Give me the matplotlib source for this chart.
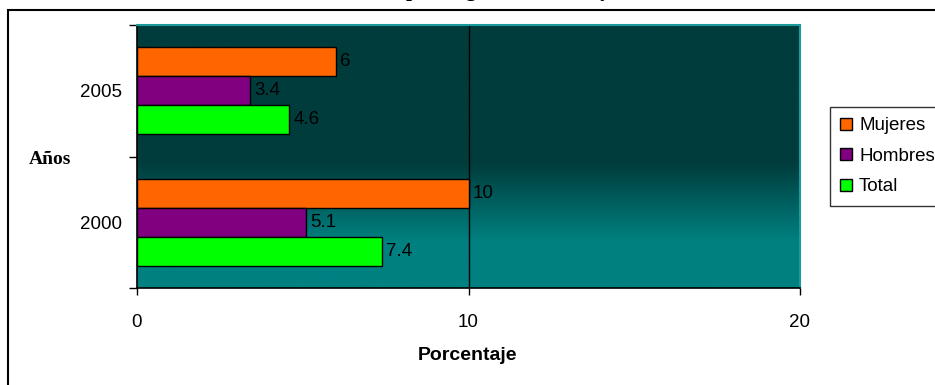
import numpy as np
import matplotlib.pyplot as plt
from matplotlib.patches import Patch, Rectangle

# Datos
anios = ["2000", "2005"]
mujeres = [10, 6]
hombres = [5.1, 3.4]
total = [7.4, 4.6]

series = [
    ("Mujeres", mujeres, "#FF6600", 0.22),
    ("Hombres", hombres, "#800080", 0.0),
    ("Total", total, "#00FF00", -0.22),
]

FS = 13.5
SANS = "Liberation Sans"

W, H = 935, 385
fig = plt.figure(figsize=(W / 100, H / 100), dpi=100)
ax = fig.add_axes([137 / W, (H - 288) / H, 663 / W, 263 / H])

# fondo degradado: verde oscuro arriba, turquesa abajo
frac = np.linspace(0, 1, 512)
t = np.clip((frac - 0.18) / (0.475 - 0.18), 0, 1)
dark = np.array([0, 60, 60]) / 255
light = np.array([0, 128, 128]) / 255
grad = light[None, :] * (1 - t[:, None]) + dark[None, :] * t[:, None]
ax.imshow(grad[:, None, :], aspect="auto", extent=[0, 20, -0.5, 1.5],
          origin="lower", zorder=0, interpolation="bilinear")

pos = np.arange(len(anios))
for nombre, vals, color, off in series:
    bars = ax.barh(pos + off, vals, height=0.22, color=color,
                   edgecolor="black", linewidth=1, zorder=3)
    for b, v in zip(bars, vals):
        ax.annotate(f"{v:g}", (v, b.get_y() + b.get_height() / 2),
                    xytext=(3, 0), textcoords="offset points",
                    va="center", ha="left", fontsize=FS,
                    family=SANS, color="black", zorder=4)

ax.axvline(10, color="black", lw=1, zorder=2)

ax.set_xlim(0, 20)
ax.set_ylim(-0.5, 1.5)
ax.set_xticks([0, 10, 20])
ax.set_xticklabels(["0", "10", "20"], fontsize=FS, family=SANS)
ax.tick_params(axis="x", direction="out", length=5, width=1, pad=14)

ax.set_yticks([-0.5, 0.5, 1.5])
ax.set_yticklabels([])
ax.set_yticks(pos, minor=True)
ax.set_yticklabels(anios, minor=True, fontsize=FS, family=SANS)
ax.tick_params(axis="y", which="major", direction="out", length=6, width=1)
ax.tick_params(axis="y", which="minor", length=0, pad=11)

for s in ("left", "bottom"):
    ax.spines[s].set_color("black")
    ax.spines[s].set_linewidth(1.2)
for s in ("top", "right"):
    ax.spines[s].set_color("#1a9a9a")
    ax.spines[s].set_linewidth(1.5)

fig.text(468 / W, 1 - 355 / H, "Porcentaje", ha="center", va="center",
         fontsize=14, fontweight="bold", family=SANS)
fig.text(50 / W, 1 - 160 / H, "Años", ha="center", va="center",
         fontsize=14, fontweight="bold", family="Liberation Serif")

# título (queda recortado por el borde superior)
fig.text(0.5, 1 + 4 / H, "Tasa de desempleo según sexo, 2000 y 2005",
         ha="center", va="baseline", fontsize=15, fontweight="bold",
         family="Liberation Serif")

# marco exterior del gráfico
fig.patches.append(Rectangle((8 / W, -0.1), 1.2, 1 - 10 / H + 0.1,
                             transform=fig.transFigure, fill=False,
                             edgecolor="black", lw=1.5, zorder=10))

handles = [Patch(facecolor=c, edgecolor="black", label=n) for n, _, c, _ in series]
leg = fig.legend(handles=handles, loc="upper left",
                 bbox_to_anchor=(830 / W, 1 - 107 / H),
                 prop={"family": SANS, "size": FS},
                 fancybox=False, frameon=True, edgecolor="black",
                 handlelength=0.6, handleheight=0.6, handletextpad=0.4,
                 labelspacing=0.72, borderpad=0.55, borderaxespad=0)
leg.get_frame().set_linewidth(1)

fig.savefig("out.png", dpi=100)
